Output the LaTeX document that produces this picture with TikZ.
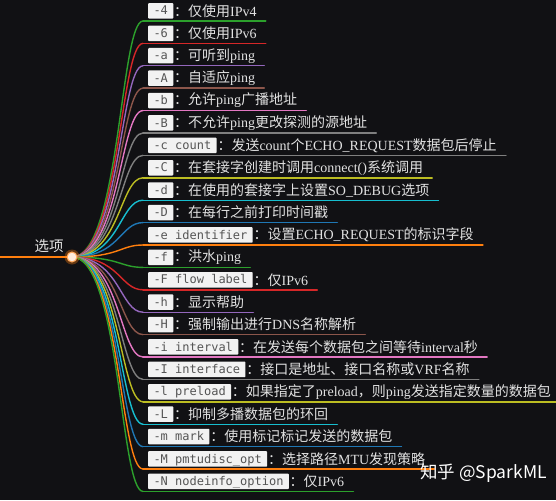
\documentclass[tikz,border=0pt]{standalone}
\usepackage{fontspec}
\setmainfont{Noto Sans CJK SC}
\newfontfamily\monof{DejaVu Sans Mono}
\newfontfamily\latf{Liberation Serif}
\newcommand\lat[1]{{\latf #1}}
\usetikzlibrary{calc}
\definecolor{bg}{HTML}{111114}
\definecolor{boxbg}{HTML}{F2F2F2}
\definecolor{codefg}{HTML}{555555}
\definecolor{descfg}{HTML}{E2E2E2}
\definecolor{cblue}{HTML}{1F77B4}
\definecolor{corange}{HTML}{FF7F0E}
\definecolor{cgreen}{HTML}{2CA02C}
\definecolor{cred}{HTML}{D62728}
\definecolor{cpurple}{HTML}{9467BD}
\definecolor{cbrown}{HTML}{8C564B}
\definecolor{cpink}{HTML}{E377C2}
\definecolor{cgray}{HTML}{7F7F7F}
\definecolor{colive}{HTML}{BCBD22}
\definecolor{ccyan}{HTML}{17BECF}
\begin{document}
\begin{tikzpicture}[x=1pt,y=-1pt,
  codebox/.style={fill=boxbg, text=codefg, font=\monof\fontsize{12}{12}\selectfont,
    inner xsep=5.3pt, inner ysep=0pt, text height=11.8pt, text depth=3.7pt,
    anchor=north west, rounded corners=0.8pt},
  desc/.style={text=descfg, font=\fontsize{14}{16}\selectfont, inner sep=0pt, anchor=west},
  link/.style={line width=1.4pt, line cap=round}]
\path[use as bounding box, fill=bg] (0,0) rectangle (556,500);
\coordinate (hubc) at (72,257);
\coordinate (rootstart) at (0,257);
\draw[link, corange] (rootstart) -- (hubc);
\node[text=descfg, font=\fontsize{14.5}{16}\selectfont, inner sep=0pt] (root) at (49,246) {选项};
\foreach \code/\txt/\col [count=\i from 0] in {
  -4/仅使用\lat{IPv4}/cgreen,
  -6/仅使用\lat{IPv6}/cred,
  -a/可听到\lat{ping}/cpurple,
  -A/自适应\lat{ping}/cbrown,
  -b/允许\lat{ping}广播地址/cpink,
  -B/不允许\lat{ping}更改探测的源地址/cgray,
  -c count/发送\lat{count}个\lat{ECHO\_REQUEST}数据包后停止/cgray,
  -C/在套接字创建时调用\lat{connect()}系统调用/colive,
  -d/在使用的套接字上设置\lat{SO\_DEBUG}选项/ccyan,
  -D/在每行之前打印时间戳/cblue,
  -e identifier/设置\lat{ECHO\_REQUEST}的标识字段/corange,
  -f/洪水\lat{ping}/cgreen,
  -F flow label/仅\lat{IPv6}/cred,
  -h/显示帮助/cpurple,
  -H/强制输出进行\lat{DNS}名称解析/cbrown,
  -i interval/在发送每个数据包之间等待\lat{interval}秒/cpink,
  -I interface/接口是地址、接口名称或\lat{VRF}名称/cgray,
  -l preload/如果指定了\lat{preload}，则\lat{ping}发送指定数量的数据包/colive,
  -L/抑制多播数据包的环回/ccyan,
  -m mark/使用标记标记发送的数据包/cblue,
  -M pmtudisc\_opt/选择路径\lat{MTU}发现策略/corange,
  -N nodeinfo\_option/仅\lat{IPv6}/cgreen}
{
  \pgfmathsetmacro{\yy}{21+22.4*\i}
  \coordinate (e\i) at (143,\yy);
  \node[codebox] (b\i) at (148,\yy-18) {\code};
  \node[desc] (t\i) at ([xshift=0.5pt]b\i.east) {：\txt};
  \path (t\i.east |- e\i) ++(9,0) coordinate (u\i);
  \draw[link, \col] (hubc) .. controls (120,257) and (120,\yy) .. (e\i);
  \draw[link, \col] (e\i) -- (u\i);
}
\fill[corange, opacity=0.35] (hubc) circle (7.5);
\node[circle, fill=white!85!corange, draw=corange!70!white, line width=1pt, minimum size=10pt, inner sep=0pt] (hub) at (hubc) {};
\node[text=white, font=\fontsize{17.5}{20}\selectfont, inner sep=0pt, anchor=west] (wm) at (420,473) {知乎 @SparkML};
\end{tikzpicture}
\end{document}
